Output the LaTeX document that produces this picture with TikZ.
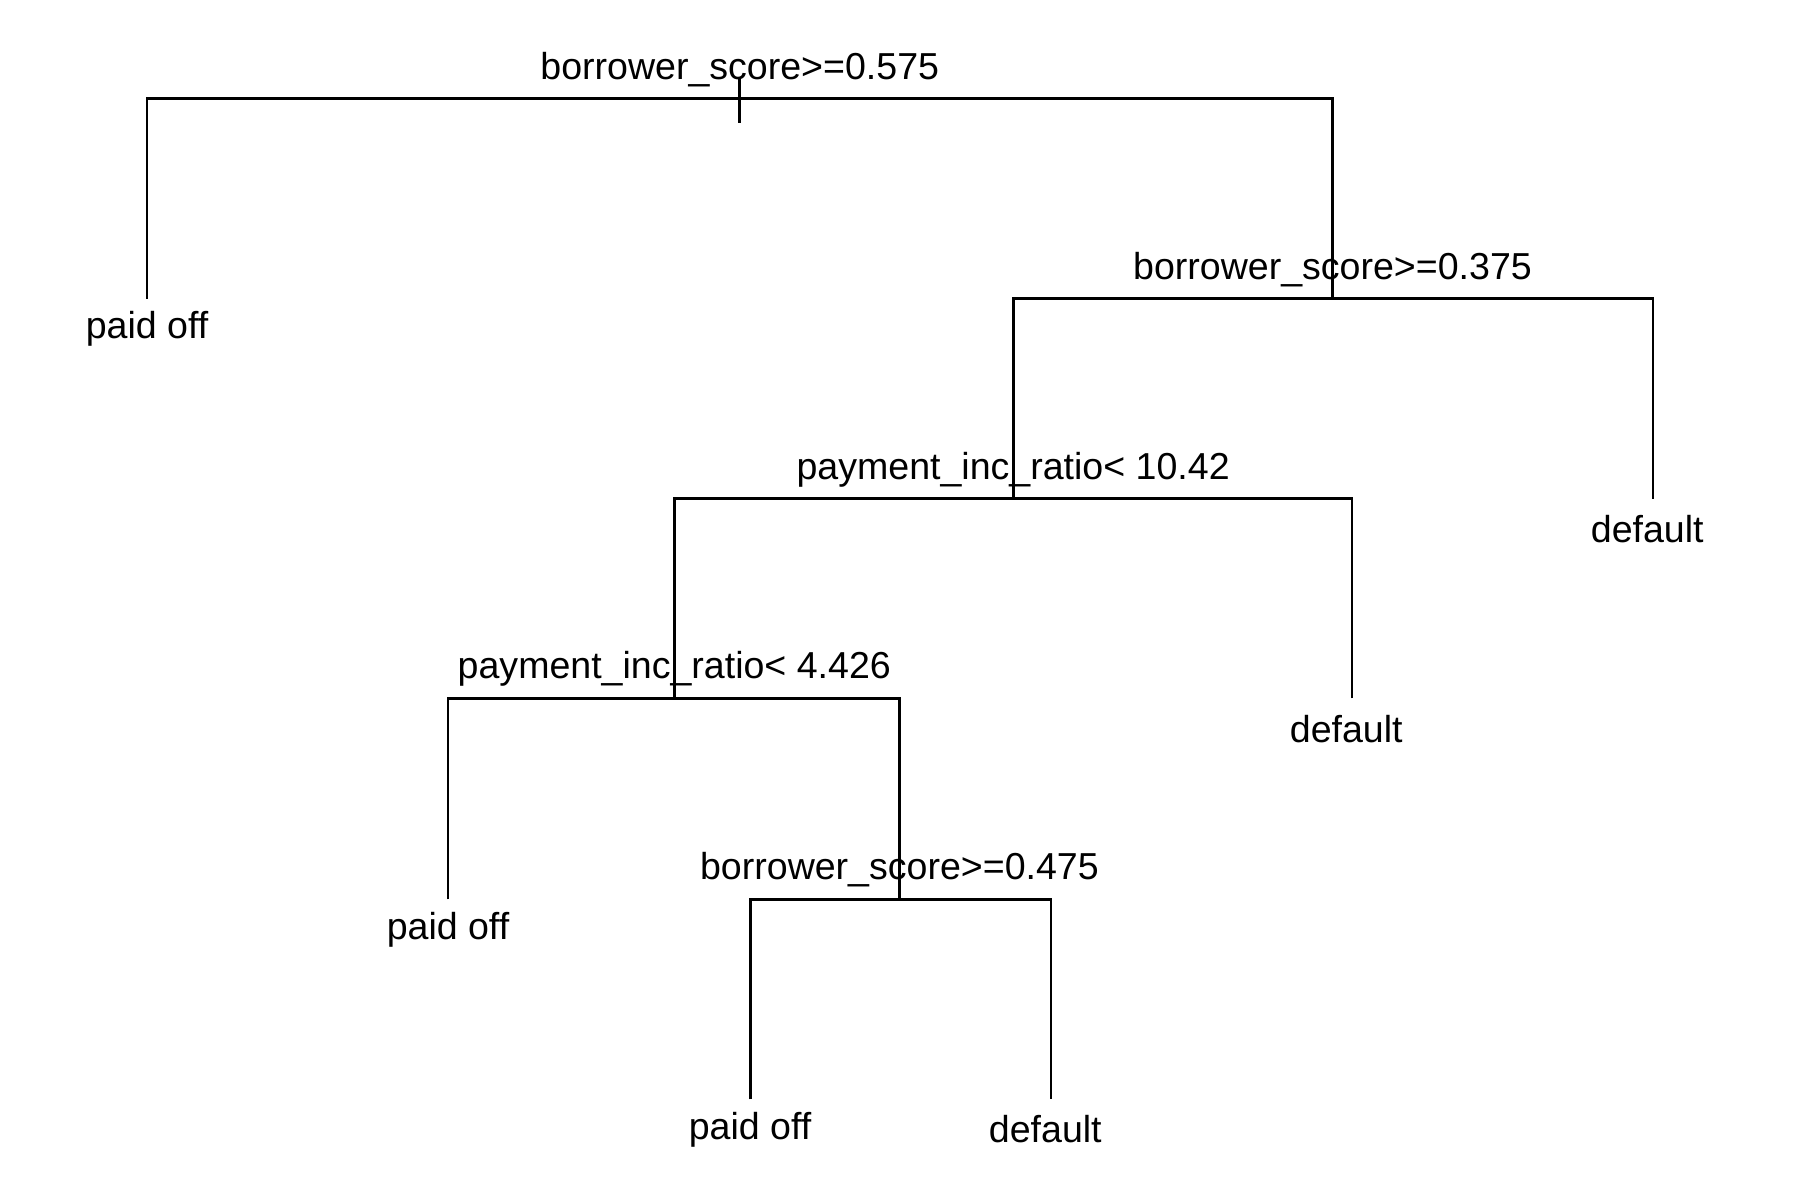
\documentclass[tikz,border=0pt]{standalone}
\usepackage{fontspec}
\setmainfont{Liberation Sans}
\begin{document}
\begin{tikzpicture}[x=0.1mm,y=-0.1mm,
  branch/.style={line width=0.7pt},
  split/.style={anchor=base,inner sep=0pt,font=\fontsize{9.3}{11}\selectfont},
  leaf/.style={anchor=base,inner sep=0pt,font=\fontsize{9.3}{11}\selectfont}]
\useasboundingbox (0,0) rectangle (1567,1045);

  % split points
  \coordinate (s1) at (644,86);
  \coordinate (s2) at (1160,260);
  \coordinate (s3) at (882,434);
  \coordinate (s4) at (587,608);
  \coordinate (s5) at (783,783);

  % leaf ends
  \coordinate (e1) at (128,260);
  \coordinate (e2) at (1439,434);
  \coordinate (e3) at (1177,608);
  \coordinate (e4) at (390,783);
  \coordinate (e5) at (653,957);
  \coordinate (e6) at (915,957);

  % root mark ends
  \coordinate (r1) at (644,68);
  \coordinate (r2) at (644,107);

  \node[split] (t1) at (644,69) {borrower\_score>=0.575};
  \node[split] (t2) at (1160,243) {borrower\_score>=0.375};
  \node[split] (t3) at (882,417) {payment\_inc\_ratio< 10.42};
  \node[split] (t4) at (587,591) {payment\_inc\_ratio< 4.426};
  \node[split] (t5) at (783,766) {borrower\_score>=0.475};

  \node[leaf] (l1) at (128,295) {paid off};
  \node[leaf] (l2) at (1434,472) {default};
  \node[leaf] (l3) at (1172,646) {default};
  \node[leaf] (l4) at (390,818) {paid off};
  \node[leaf] (l5) at (653,992) {paid off};
  \node[leaf] (l6) at (910,995) {default};

  % branches
  \draw[branch] (e1) |- (s1) -| (s2);
  \draw[branch] (s3) |- (s2) -| (e2);
  \draw[branch] (e3) |- (s3) -| (s4);
  \draw[branch] (e4) |- (s4) -| (s5);
  \draw[branch] (e5) |- (s5) -| (e6);
  \draw[branch] (r1) -- (r2);
\end{tikzpicture}
\end{document}
